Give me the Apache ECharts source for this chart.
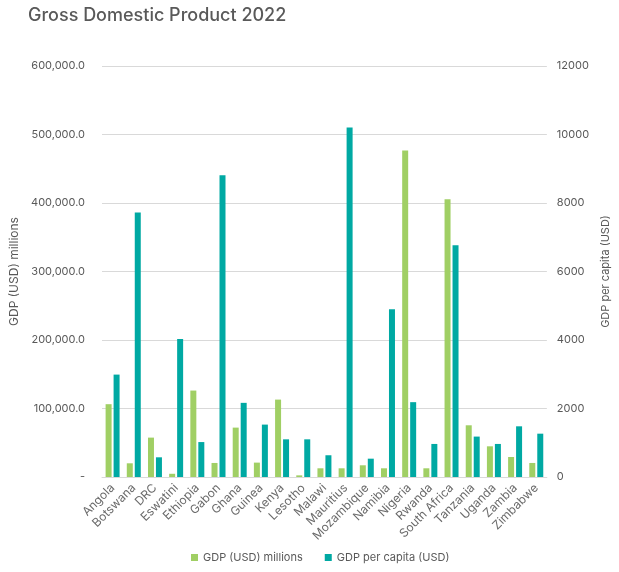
<!DOCTYPE html>
<html>
<head>
<meta charset="utf-8">
<script src="https://cdn.jsdelivr.net/npm/echarts@6/dist/echarts.min.js"></script>
<style>
  html, body { margin: 0; padding: 0; background: #fff; }
  #chart { width: 619px; height: 572px; }
</style>
</head>
<body>
<div id="chart"></div>
<script>
const countries = ["Angola","Botswana","DRC","Eswatini","Ethiopia","Gabon","Ghana","Guinea","Kenya","Lesotho","Malawi","Mauritius","Mozambique","Namibia","Nigeria","Rwanda","South Africa","Tanzania","Uganda","Zambia","Zimbabwe"];
const gdpMillions = [106300,20000,57500,4700,126200,20500,72100,21000,113000,2400,12700,12700,17100,12700,476600,12700,405400,75500,44800,29200,20500];
const gdpPerCapita = [2990,7720,575,4030,1020,8810,2165,1530,1100,1100,635,10205,535,4900,2185,965,6765,1180,965,1480,1265];

const green = "#a0cf64", teal = "#00a9a3", txt = "#595959", line = "#d9d9d9";
const font = "Inter";

const chart = echarts.init(document.getElementById("chart"));
chart.setOption({
  animation: false,
  textStyle: {fontFamily: font},
  title: {
    text: "Gross Domestic Product 2022",
    left: 23, top: 2,
    textStyle: {fontFamily: font, fontSize: 18, fontWeight: 500, color: txt}
  },
  legend: {
    bottom: 4, left: 186,
    itemWidth: 7, itemHeight: 7, itemGap: 22,
    icon: "rect",
    textStyle: {fontSize: 11, color: txt}
  },
  grid: {left: 99, right: 64, top: 66, bottom: 95},
  xAxis: {
    type: "category",
    data: countries,
    axisLine: {lineStyle: {color: line}},
    axisTick: {show: false},
    axisLabel: {rotate: 45, fontSize: 12, color: "#6a6a6a", margin: 9, interval: 0}
  },
  yAxis: [
    {
      type: "value", min: 0, max: 600000, interval: 100000,
      name: "GDP (USD) millions", nameLocation: "middle", nameRotate: 90, nameGap: 82,
      nameTextStyle: {fontSize: 12, color: txt},
      axisLabel: {
        fontSize: 11, color: txt, margin: 17,
        formatter: v => v === 0 ? "-" : v.toLocaleString("en-US", {minimumFractionDigits: 1, maximumFractionDigits: 1})
      },
      splitLine: {lineStyle: {color: line}},
      axisLine: {show: false}, axisTick: {show: false}
    },
    {
      type: "value", min: 0, max: 12000, interval: 2000,
      name: "GDP per capita (USD)", nameLocation: "middle", nameRotate: 90, nameGap: 48,
      nameTextStyle: {fontSize: 11, color: txt},
      axisLabel: {fontSize: 11, color: txt, margin: 10, formatter: v => String(v)},
      splitLine: {show: false},
      axisLine: {show: false}, axisTick: {show: false}
    }
  ],
  series: [
    {name: "GDP (USD) millions", type: "bar", yAxisIndex: 0, data: gdpMillions,
     itemStyle: {color: green}, barWidth: 6, barGap: "33%"},
    {name: "GDP per capita (USD)", type: "bar", yAxisIndex: 1, data: gdpPerCapita,
     itemStyle: {color: teal}, barWidth: 6}
  ]
});
</script>
</body>
</html>
